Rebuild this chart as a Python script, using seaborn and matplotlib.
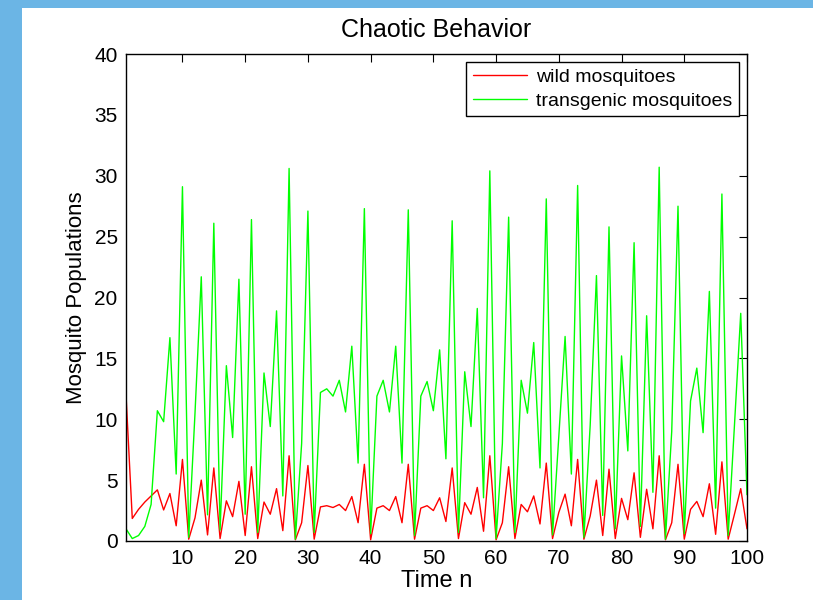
import matplotlib
matplotlib.use("Agg")
import matplotlib.pyplot as plt
import matplotlib.patches as mpatches
import seaborn as sns
import pandas as pd
import numpy as np

# ---- data ----
time_n = list(range(1, 101))
wild = [12.0, 1.85, 2.6, 3.2, 3.7, 4.2, 2.55, 3.9, 1.25, 6.7,
        0.15, 1.9, 5.0, 0.5, 6.0, 0.2, 3.3, 2.0, 4.9, 0.45,
        6.1, 0.2, 3.2, 2.2, 4.3, 0.85, 7.0, 0.1, 1.5, 6.2,
        0.15, 2.8, 2.9, 2.75, 3.0, 2.5, 3.65, 1.5, 6.3, 0.1,
        2.7, 2.9, 2.5, 3.65, 1.5, 6.3, 0.15, 2.7, 2.9, 2.5,
        3.55, 1.6, 6.0, 0.2, 3.15, 2.2, 4.4, 0.8, 7.0, 0.1,
        1.5, 6.1, 0.2, 3.0, 2.4, 3.7, 1.4, 6.4, 0.2, 2.35,
        3.85, 1.25, 6.7, 0.15, 2.05, 5.0, 0.45, 5.9, 0.2, 3.5,
        1.75, 5.6, 0.3, 4.25, 1.0, 7.0, 0.1, 1.5, 6.3, 0.15,
        2.6, 3.25, 2.0, 4.7, 0.55, 6.5, 0.15, 2.2, 4.3, 1.0]
transgenic = [1.0, 0.2, 0.45, 1.2, 3.0, 10.7, 9.8, 16.7, 5.5, 29.1,
              0.3, 10.5, 21.7, 2.15, 26.1, 0.9, 14.4, 8.5, 21.5, 2.2,
              26.4, 0.7, 13.8, 9.4, 18.9, 3.7, 30.6, 0.15, 8.0, 27.1,
              0.7, 12.2, 12.5, 11.9, 13.2, 10.6, 16.0, 6.4, 27.3, 0.6,
              11.9, 13.2, 10.6, 16.0, 6.4, 27.2, 0.45, 11.9, 13.1, 10.7,
              15.7, 6.75, 26.3, 0.7, 13.9, 9.4, 19.1, 3.55, 30.4, 0.2,
              8.0, 26.6, 0.7, 13.2, 10.5, 16.3, 6.0, 28.1, 0.5, 8.6,
              16.8, 5.5, 29.2, 0.3, 9.5, 21.8, 2.1, 25.8, 1.0, 15.2,
              7.4, 24.5, 1.2, 18.5, 4.0, 30.7, 0.15, 9.0, 27.5, 0.6,
              11.5, 14.2, 8.9, 20.5, 2.7, 28.5, 0.45, 9.5, 18.7, 3.8]
series_names = ["wild mosquitoes", "transgenic mosquitoes"]
x_ticks = [10, 20, 30, 40, 50, 60, 70, 80, 90, 100]
y_ticks = [0, 5, 10, 15, 20, 25, 30, 35, 40]

df = pd.DataFrame({
    "n": time_n * 2,
    "value": wild + transgenic,
    "series": [series_names[0]] * len(wild) + [series_names[1]] * len(transgenic),
})

sns.set_style("white")
plt.rcParams["font.family"] = ["Liberation Sans", "DejaVu Sans"]
plt.rcParams["text.color"] = "black"
plt.rcParams["axes.labelcolor"] = "black"

fig = plt.figure(figsize=(8.13, 6.0), dpi=100)
fig.patch.set_facecolor("white")
# blue frame strips of the reference screenshot
fig.patches.append(mpatches.Rectangle((0, 0), 22 / 813, 1, transform=fig.transFigure,
                                      facecolor="#6BB5E5", edgecolor="none", zorder=0))
fig.patches.append(mpatches.Rectangle((0, 1 - 8 / 600), 1, 8 / 600, transform=fig.transFigure,
                                      facecolor="#6BB5E5", edgecolor="none", zorder=0))

ax = fig.add_axes([126 / 813, 59 / 600, 621 / 813, 487 / 600])
sns.lineplot(data=df, x="n", y="value", hue="series",
             palette={series_names[0]: "#FF0000", series_names[1]: "#00FF00"},
             linewidth=1.0, ax=ax, estimator=None, sort=False)

ax.set_xlim(1, 100)
ax.set_ylim(0, 40)
ax.set_xticks(x_ticks)
ax.set_yticks(y_ticks)
ax.tick_params(direction="in", top=True, right=True, length=6, width=0.8,
               labelsize=15, colors="black", pad=6)
for s in ax.spines.values():
    s.set_color("black")
    s.set_linewidth(1.0)
    s.set_visible(True)

ax.set_title("Chaotic Behavior", fontsize=18, pad=12, color="black")
ax.set_xlabel("Time n", fontsize=17, labelpad=1)
ax.set_ylabel("Mosquito Populations", fontsize=16, labelpad=5)

leg = ax.legend(loc="upper right", fontsize=14, frameon=True, fancybox=False,
                edgecolor="black", framealpha=1, borderpad=0.35, labelspacing=0.3,
                handlelength=2.8, handletextpad=0.45, borderaxespad=0.4)
leg.get_frame().set_linewidth(1.0)
for t in leg.get_texts():
    t.set_color("black")

fig.savefig("out.png", dpi=100, facecolor=fig.get_facecolor())
